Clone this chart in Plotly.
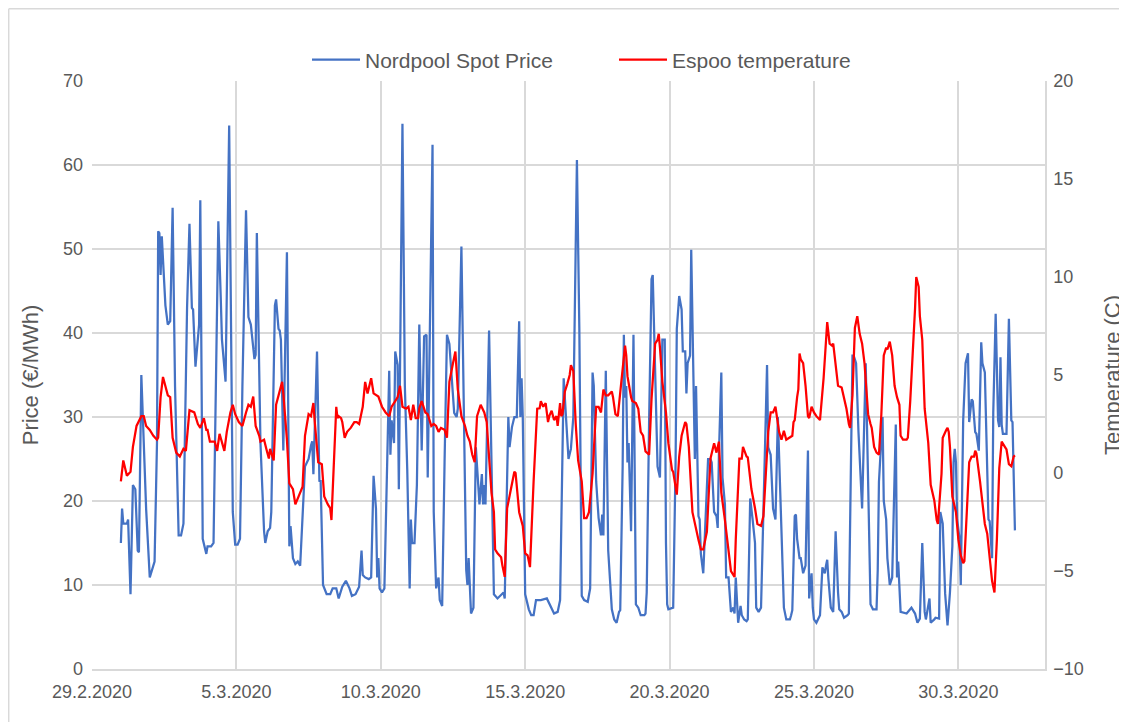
import plotly.graph_objects as go
import pandas as pd

# hours since 1.3.2020 00:00 and values
price_hours = [0, 1, 2, 5, 6, 8, 10, 12, 14, 15, 17, 20, 21, 24, 25, 28, 30, 31, 32, 33, 34, 37, 39, 41, 43, 45, 48, 50, 52, 54, 55, 57, 59, 60, 62, 65, 66, 68, 69, 71, 72, 75, 77, 81, 83, 84, 87, 90, 93, 95, 97, 99,
               101, 104, 106, 108, 111, 112, 113, 116, 119, 120, 122, 124, 125, 128, 129, 131, 132, 133, 135, 138, 140, 141, 143, 145, 147, 149, 153, 156, 158, 159, 160, 163, 165, 166, 168, 171, 174, 176, 179, 181, 184, 187, 190, 192, 195, 198,
               200, 201, 203, 206, 208, 210, 212, 213, 214, 215, 217, 219, 223, 224, 225, 227, 228, 230, 231, 232, 234, 236, 238, 240, 241, 242, 244, 246, 248, 250, 252, 254, 255, 259, 260, 262, 264, 265, 267, 269, 271, 273, 275, 277, 279, 280, 283, 286, 287, 288, 289, 291, 293, 295, 298,
               300, 301, 302, 303, 306, 308, 310, 313, 316, 318, 319, 322, 323, 325, 327, 329, 331, 332, 333, 334, 336, 339, 341, 343, 345, 349, 354, 357, 360, 363, 365, 368, 370, 372, 374, 376, 379, 381, 383, 385, 388, 390, 392, 393, 395, 397, 399,
               400, 401, 403, 405, 406, 408, 410, 412, 414, 415, 417, 418, 419, 420, 421, 422, 424, 426, 428, 430, 432, 435, 436, 437, 439, 441, 442, 444, 445, 446, 448, 450, 452, 453, 454, 455, 459, 461, 462, 464, 466, 467, 469, 470, 471, 473, 474, 476, 477, 478, 480, 481, 482, 484, 487, 488, 490, 491, 493, 495, 496, 497, 499,
               500, 502, 503, 505, 506, 507, 509, 510, 511, 513, 515, 516, 518, 520, 521, 523, 525, 527, 528, 530, 532, 534, 537, 538, 540, 542, 544, 546, 549, 550, 551, 553, 556, 557, 558, 560, 561, 562, 564, 565, 567, 569, 571, 572, 574, 575, 576, 578, 581, 583, 585, 586, 587, 588, 590, 592, 594, 596, 597, 599,
               601, 604, 605, 608, 609, 611, 613, 616, 617, 619, 621, 623, 625, 628, 629, 630, 633, 634, 636, 637, 639, 641, 644, 645, 646, 648, 653, 657, 660, 662, 664, 666, 668, 669, 672, 673, 676, 677, 680, 681, 683, 684, 685, 687, 689, 691, 692, 693, 694, 695, 697, 698,
               700, 702, 704, 705, 707, 708, 710, 711, 713, 715, 716, 718, 720, 721, 722, 724, 725, 727, 729, 730, 731, 732, 733, 736, 738, 740, 741, 743]
price = [15.0, 19.1, 17.3, 17.3, 17.8, 8.9, 21.9, 21.4, 14.1, 13.9, 35.0, 21.0, 19.0, 10.9, 11.4, 12.8, 26.9, 52.1, 51.9, 46.9, 51.5, 43.3, 41.0, 41.4, 54.9, 33.7, 15.9, 15.9, 17.3, 34.0, 43.0, 53.0, 43.0, 42.8, 36.0, 41.0, 55.8, 15.5, 15.0, 13.7, 14.6, 14.6, 15.0, 53.3, 44.2, 39.2, 34.2, 64.7, 18.7, 14.8, 14.8, 15.5,
         33.7, 54.6, 41.9, 41.0, 36.9, 37.4, 51.9, 26.9, 16.4, 15.0, 16.4, 16.8, 18.7, 43.3, 44.0, 40.5, 40.3, 39.2, 26.0, 49.6, 14.6, 17.0, 13.2, 12.5, 12.8, 12.3, 24.1, 25.0, 26.6, 27.1, 23.2, 37.8, 22.3, 22.5, 10.0, 8.9, 8.9, 9.6, 9.6, 8.4, 9.8, 10.5, 9.6, 8.7, 8.9, 9.8,
         14.1, 11.2, 10.9, 10.7, 10.9, 23.0, 19.1, 10.9, 13.2, 9.6, 9.1, 9.6, 35.5, 25.5, 29.6, 26.9, 37.8, 36.2, 21.4, 33.7, 64.9, 33.7, 23.7, 9.6, 17.8, 15.0, 15.0, 21.9, 41.0, 26.0, 39.6, 39.8, 22.8, 62.4, 18.7, 9.6, 10.9, 8.2, 7.5, 24.6, 39.8, 38.7, 34.6, 30.5, 30.0, 31.0, 50.3, 21.4, 11.8, 10.0, 13.2, 6.6, 7.3, 26.4, 19.6,
         23.2, 19.6, 21.9, 19.6, 40.3, 24.1, 8.9, 8.4, 8.9, 9.1, 8.4, 30.0, 26.4, 28.8, 30.0, 30.0, 41.4, 30.0, 34.6, 30.0, 8.9, 7.1, 6.4, 6.4, 8.2, 8.2, 8.4, 7.5, 6.6, 6.8, 8.2, 34.6, 30.0, 25.0, 26.2, 30.0, 60.6, 40.5, 8.7, 8.2, 8.0, 9.6, 35.3, 33.7, 22.3, 18.0, 15.9,
         18.4, 15.9, 35.5, 14.1, 11.8, 7.1, 5.9, 5.5, 6.8, 7.0, 24.1, 39.8, 32.3, 33.7, 24.6, 26.9, 16.4, 39.8, 7.7, 7.3, 6.4, 6.4, 6.6, 9.1, 29.6, 46.4, 46.9, 35.0, 27.3, 24.1, 22.8, 39.2, 39.2, 15.0, 7.7, 7.1, 7.3, 24.6, 40.5, 44.4, 42.8, 37.8, 37.8, 32.8, 36.4, 37.3, 49.9, 29.1, 25.0, 33.7, 18.2, 17.8, 13.7, 11.4, 21.0, 25.0, 25.0, 24.6, 18.7, 18.2, 16.8, 25.5, 35.3,
         22.8, 19.6, 10.9, 10.9, 8.7, 6.8, 7.3, 6.6, 10.9, 5.5, 7.5, 6.4, 5.9, 5.7, 5.9, 20.3, 17.8, 15.0, 7.3, 6.8, 7.3, 20.0, 36.2, 26.4, 25.5, 19.1, 17.8, 30.0, 15.9, 12.3, 7.3, 5.9, 5.9, 6.4, 7.0, 18.2, 18.4, 15.5, 13.2, 13.2, 11.4, 12.3, 26.0, 8.4, 11.4, 7.3, 5.9, 5.5, 6.4, 12.1, 11.4, 12.3, 13.0, 10.7, 7.3, 6.8, 16.4, 9.1, 7.1, 6.8,
         6.1, 6.4, 6.6, 37.3, 37.3, 36.4, 28.2, 19.1, 25.0, 36.4, 22.3, 7.7, 7.1, 7.1, 11.8, 22.3, 30.0, 20.0, 17.8, 13.2, 10.0, 10.9, 29.1, 10.9, 12.8, 6.8, 6.6, 7.3, 6.6, 5.5, 6.0, 15.0, 6.8, 5.9, 8.4, 5.5, 5.9, 6.1, 6.0, 18.7, 17.3, 11.4, 9.0, 5.2, 9.1, 14.6, 24.6, 26.2, 24.6, 17.8, 15.5, 10.0,
         29.6, 36.4, 37.6, 29.4, 32.1, 31.9, 28.2, 28.0, 26.0, 38.9, 36.4, 35.3, 24.6, 17.8, 17.6, 13.2, 30.5, 42.3, 29.6, 28.8, 37.1, 29.1, 28.0, 28.0, 41.7, 29.6, 29.4, 16.5]

temp_hours = [0, 2, 5, 8, 10, 13, 17, 19, 21, 24, 27, 30, 31, 33, 35, 37, 39, 41, 43, 46, 49, 52, 54, 57, 61, 64, 66, 69, 71, 72, 74, 78, 80, 82, 86, 88, 91, 93, 95, 98,
              101, 104, 106, 108, 110, 112, 115, 116, 119, 121, 122, 123, 124, 127, 129, 132, 134, 135, 138, 140, 143, 145, 147, 150, 151, 153, 156, 158, 160, 161, 164, 167, 169, 172, 174, 175, 179, 180, 181, 183, 184, 186, 188, 191, 194, 196, 198,
              201, 203, 205, 208, 210, 212, 214, 217, 220, 223, 225, 228, 230, 232, 234, 237, 239, 241, 243, 245, 247, 248, 250, 253, 255, 258, 260, 262, 264, 266, 269, 271, 273, 276, 278, 280, 283, 286, 288, 290, 292, 294, 296, 299,
              302, 304, 306, 308, 310, 311, 313, 316, 317, 319, 321, 324, 327, 328, 331, 334, 336, 338, 340, 343, 346, 348, 349, 351, 353, 355, 356, 358, 360, 362, 363, 365, 366, 367, 369, 371, 373, 374, 376, 378, 380, 383, 385, 387, 389, 392, 395, 397, 399,
              401, 403, 405, 408, 409, 411, 413, 414, 417, 419, 420, 421, 424, 425, 428, 430, 432, 434, 436, 439, 441, 444, 446, 447, 448, 450, 453, 455, 458, 459, 462, 464, 466, 469, 470, 472, 475, 477, 480, 482, 484, 487, 490, 493, 495, 497, 499,
              502, 505, 507, 510, 511, 514, 516, 517, 520, 521, 524, 527, 529, 532, 534, 536, 538, 540, 542, 544, 545, 547, 549, 551, 553, 556, 558, 559, 560, 562, 563, 564, 565, 567, 569, 571, 572, 574, 576, 578, 581, 584, 586, 587, 589, 591, 592, 595, 596, 599,
              601, 603, 605, 606, 608, 610, 612, 614, 616, 618, 620, 621, 623, 624, 626, 628, 630, 632, 634, 636, 637, 639, 641, 643, 645, 647, 648, 650, 653, 654, 656, 658, 660, 661, 663, 664, 666, 668, 671, 673, 676, 678, 679, 682, 683, 686, 687, 688, 689, 691, 694, 696, 698,
              700, 701, 703, 705, 707, 709, 710, 711, 714, 716, 718, 720, 722, 724, 726, 728, 730, 732, 734, 736, 738, 740, 742, 743]
temp = [-0.43, 0.64, -0.14, 0.06, 1.33, 2.4, 2.9, 2.9, 2.4, 2.2, 1.9, 1.7, 1.8, 3.87, 4.9, 4.45, 3.96, 3.87, 1.8, 1.04, 0.84, 1.23, 1.13, 3.2, 3.09, 2.5, 2.3, 2.8, 2.2, 2.2, 1.6, 1.6, 1.13, 2.0, 1.13, 2.1, 3.09, 3.48, 3.0, 2.6,
        2.4, 3.09, 3.48, 3.38, 3.9, 2.4, 1.9, 1.6, 1.7, 1.2, 0.9, 0.74, 1.23, 0.64, 3.48, 4.26, 4.65, 4.06, 1.7, -0.53, -0.82, -1.6, -1.3, -0.82, -0.7, 1.9, 3.0, 2.9, 3.57, 2.7, 0.55, 0.45, -1.2, -1.6, -1.8, -2.4, 3.38, 2.8, 2.9, 2.8, 2.6, 1.8, 2.1, 2.3, 2.6, 2.6, 2.5,
        3.38, 4.65, 4.06, 4.84, 4.06, 3.96, 3.9, 3.38, 3.09, 2.9, 3.38, 3.67, 3.87, 4.45, 3.38, 3.28, 3.38, 2.7, 3.48, 2.8, 2.8, 3.3, 3.67, 3.09, 3.0, 2.4, 2.5, 2.4, 2.1, 2.3, 2.2, 1.8, 4.65, 5.6, 6.2, 4.26, 2.9, 2.4, 1.9, 1.6, 0.94, 0.55, 2.9, 3.48,
        3.09, 2.6, 0.74, -1.0, -2.0, -3.9, -4.1, -4.3, -4.7, -5.3, -1.8, -0.82, 0.06, 0.0, -2.0, -2.7, -4.1, -4.2, -4.8, -0.43, 3.28, 3.3, 3.67, 3.38, 3.57, 2.6, 2.9, 3.18, 2.7, 2.9, 2.4, 3.57, 2.9, 3.0, 4.16, 4.55, 5.0, 5.5, 5.2, 2.5, 0.64, -0.43, -2.3, -2.3, -2.0, -0.04, 3.38, 3.38, 3.09,
        4.26, 3.96, 3.96, 4.16, 3.87, 3.0, 2.9, 3.48, 5.43, 6.5, 6.0, 4.94, 3.87, 3.67, 3.57, 3.28, 2.1, 1.9, 1.1, 0.94, 3.77, 6.6, 6.8, 7.1, 6.4, 4.65, 3.09, 1.52, 0.16, 0.06, -1.1, 0.84, 1.9, 2.6, 2.5, 1.33, -2.0, -2.6, -3.4, -3.9, -3.9, -3.0, 0.74, 1.52, 1.04, 1.6, -1.0,
        -2.4, -3.9, -5.0, -5.3, -3.4, 0.74, 0.74, 1.33, 0.84, 0.8, -0.82, -1.8, -2.6, -2.7, -2.2, -0.04, 2.1, 3.09, 3.09, 3.38, 2.9, 2.1, 1.7, 2.15, 1.7, 1.8, 1.9, 2.6, 2.7, 3.87, 4.26, 6.1, 5.8, 5.6, 4.45, 2.9, 2.8, 3.38, 3.09, 2.9, 2.7, 4.84, 7.0, 7.7, 6.6, 6.5, 6.6, 4.94, 4.45, 4.36,
        3.87, 3.28, 2.5, 2.3, 3.96, 7.4, 8.0, 7.1, 6.6, 5.6, 3.87, 3.0, 2.5, 2.3, 1.33, 1.04, 0.94, 3.0, 6.0, 6.4, 6.3, 6.7, 6.0, 4.45, 3.87, 3.48, 1.9, 1.7, 1.7, 1.8, 3.67, 5.8, 8.4, 10.0, 9.5, 8.0, 6.8, 3.28, 1.52, -0.6, -1.4, -2.4, -2.6, -0.04, 1.8, 2.2, 2.3, 2.1, 1.33, -1.2, -2.0, -3.4, -4.2,
        -4.6, -4.5, -2.0, 0.55, 0.84, 0.84, 1.13, 1.0, -0.43, -1.4, -2.6, -3.1, -4.3, -5.5, -6.1, -3.4, 0.25, 1.6, 1.4, 1.2, 0.45, 0.35, 0.84, 0.9]

start = pd.Timestamp("2020-03-01")
price_time = start + pd.to_timedelta(price_hours, unit="h")
temp_time = start + pd.to_timedelta(temp_hours, unit="h")

grey = "#595959"
grid = "#d9d9d9"
font = "Liberation Sans, Arial, sans-serif"

fig = go.Figure()
fig.add_trace(go.Scatter(x=price_time, y=price, mode="lines", name="Nordpool Spot Price",
                         line=dict(color="#4472C4", width=2.25)))
fig.add_trace(go.Scatter(x=temp_time, y=temp, mode="lines", name="Espoo temperature",
                         line=dict(color="#FF0000", width=2.25), yaxis="y2"))

# page body has an 8px margin, so the figure is drawn a bit smaller and offset
fig.update_layout(
    width=1119, height=714,
    paper_bgcolor="white", plot_bgcolor="white",
    margin=dict(l=84, r=82, t=73, b=53),
    font=dict(family=font, color=grey, size=18),
    showlegend=True,
    legend=dict(orientation="h", x=0.2256, xanchor="left", y=1.0357, yanchor="middle",
                font=dict(size=21, color=grey), itemwidth=48,
                entrywidth=244, entrywidthmode="pixels"),
    xaxis=dict(type="date", range=["2020-02-29", "2020-04-02"],
               tick0="2020-02-29", dtick=5 * 86400000, tickformat="%-d.%-m.%Y",
               showgrid=True, gridcolor=grid, gridwidth=1.5,
               showline=True, linecolor=grid, linewidth=1.5, ticks="",
               ticklabelstandoff=6, tickfont=dict(size=18, color=grey)),
    yaxis=dict(range=[0, 70], dtick=10, showgrid=True, gridcolor=grid, gridwidth=1.5,
               zeroline=False, ticks="", ticklabelstandoff=8, tickfont=dict(size=18, color=grey),
               automargin=False,
               title=dict(text="Price (€/MWh)", font=dict(size=22, color=grey), standoff=18)),
    yaxis2=dict(range=[-10, 20], dtick=5, overlaying="y", side="right", showgrid=False,
                zeroline=False, ticks="", showline=True, linecolor=grid, linewidth=1.5,
                ticklabelstandoff=3, tickfont=dict(size=18, color=grey), automargin=False,
                title=dict(text="Temperature (C)", font=dict(size=22, color=grey), standoff=22)),
    shapes=[
        dict(type="line", xref="paper", yref="paper", x0=-0.0874, x1=1.2, y0=1.1229, y1=1.1229,
             line=dict(color=grid, width=1.5)),
        dict(type="line", xref="paper", yref="paper", x0=-0.0874, x1=-0.0874, y0=-0.2, y1=1.1229,
             line=dict(color=grid, width=1.5)),
    ],
)

fig.write_html("out.html")
